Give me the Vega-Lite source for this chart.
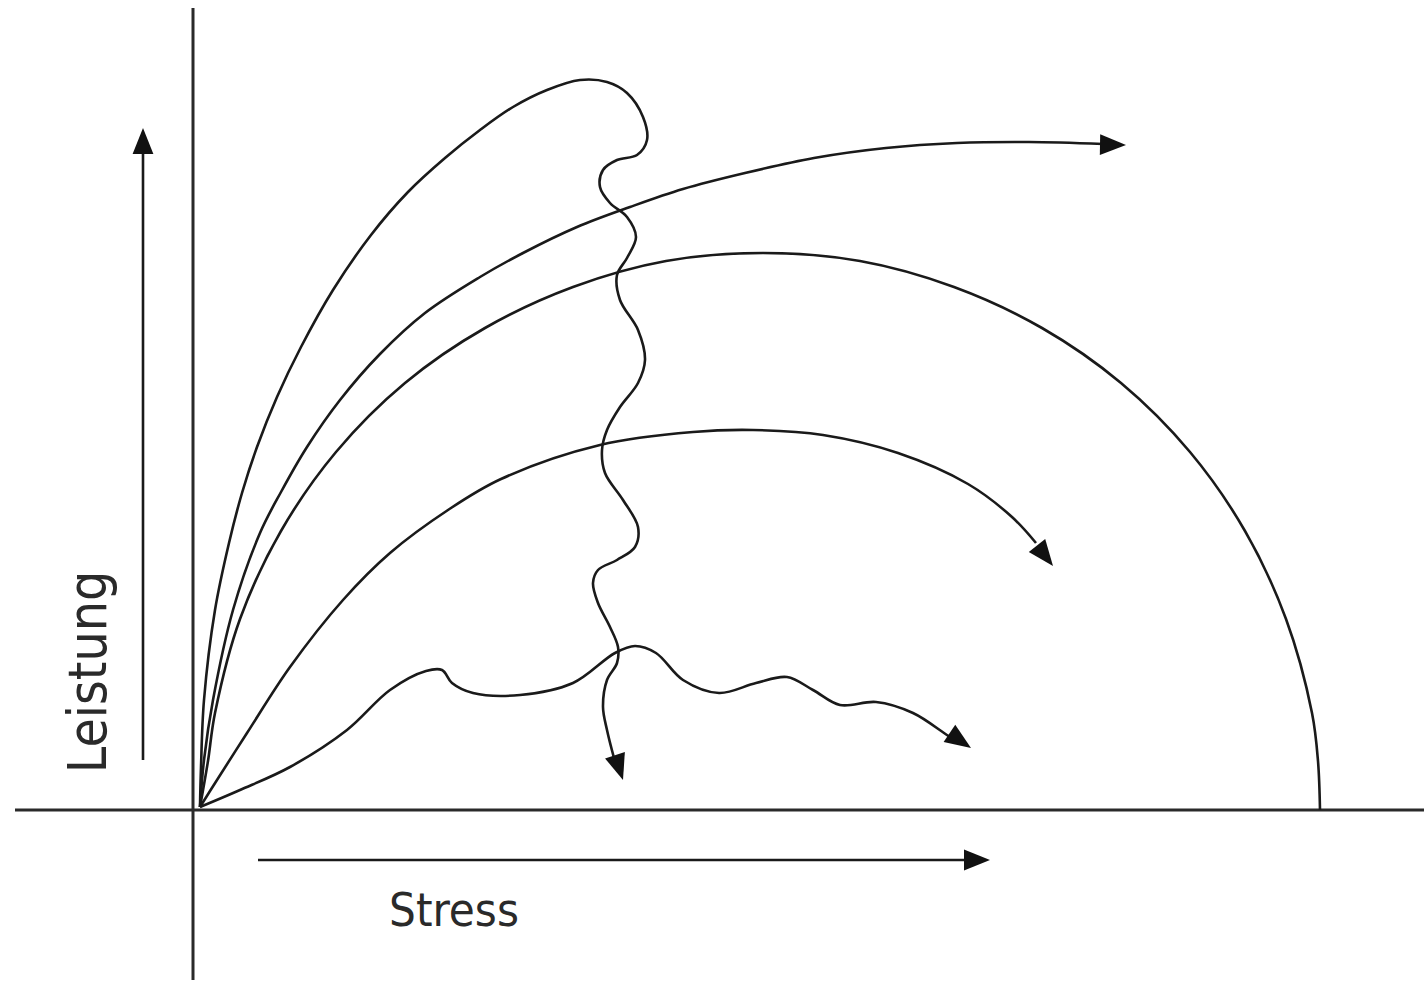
{
  "$schema": "https://vega.github.io/schema/vega-lite/v6.json",
  "width": 1424,
  "height": 981,
  "autosize": {"type": "fit", "contains": "padding"},
  "padding": 0,
  "background": "white",
  "config": {"view": {"stroke": null}},
  "datasets": {
    "axes": [
      {"s": "h", "i": 0, "x": -178, "y": 0},
      {"s": "h", "i": 1, "x": 1231, "y": 0},
      {"s": "v", "i": 0, "x": 0, "y": 802},
      {"s": "v", "i": 1, "x": 0, "y": -170}
    ],
    "curves": [
      {"s": "a", "i": 0, "x": 7, "y": 3},
      {"s": "a", "i": 1, "x": 8, "y": 43},
      {"s": "a", "i": 2, "x": 11, "y": 110},
      {"s": "a", "i": 3, "x": 22, "y": 200},
      {"s": "a", "i": 4, "x": 36, "y": 267},
      {"s": "a", "i": 5, "x": 49, "y": 317},
      {"s": "a", "i": 6, "x": 64, "y": 363},
      {"s": "a", "i": 7, "x": 84, "y": 413},
      {"s": "a", "i": 8, "x": 108, "y": 463},
      {"s": "a", "i": 9, "x": 140, "y": 520},
      {"s": "a", "i": 10, "x": 178, "y": 575},
      {"s": "a", "i": 11, "x": 215, "y": 618},
      {"s": "a", "i": 12, "x": 252, "y": 652},
      {"s": "a", "i": 13, "x": 287, "y": 680},
      {"s": "a", "i": 14, "x": 320, "y": 703},
      {"s": "a", "i": 15, "x": 354, "y": 720},
      {"s": "a", "i": 16, "x": 387, "y": 730},
      {"s": "a", "i": 17, "x": 414, "y": 728},
      {"s": "a", "i": 18, "x": 434, "y": 717},
      {"s": "a", "i": 19, "x": 450, "y": 693},
      {"s": "a", "i": 20, "x": 454, "y": 670},
      {"s": "a", "i": 21, "x": 444, "y": 655},
      {"s": "a", "i": 22, "x": 424, "y": 650},
      {"s": "a", "i": 23, "x": 410, "y": 640},
      {"s": "a", "i": 24, "x": 407, "y": 623},
      {"s": "a", "i": 25, "x": 417, "y": 607},
      {"s": "a", "i": 26, "x": 434, "y": 593},
      {"s": "a", "i": 27, "x": 443, "y": 573},
      {"s": "a", "i": 28, "x": 434, "y": 552},
      {"s": "a", "i": 29, "x": 424, "y": 535},
      {"s": "a", "i": 30, "x": 427, "y": 510},
      {"s": "a", "i": 31, "x": 445, "y": 480},
      {"s": "a", "i": 32, "x": 452, "y": 450},
      {"s": "a", "i": 33, "x": 445, "y": 427},
      {"s": "a", "i": 34, "x": 427, "y": 403},
      {"s": "a", "i": 35, "x": 414, "y": 380},
      {"s": "a", "i": 36, "x": 409, "y": 360},
      {"s": "a", "i": 37, "x": 412, "y": 337},
      {"s": "a", "i": 38, "x": 430, "y": 310},
      {"s": "a", "i": 39, "x": 445, "y": 283},
      {"s": "a", "i": 40, "x": 442, "y": 263},
      {"s": "a", "i": 41, "x": 424, "y": 250},
      {"s": "a", "i": 42, "x": 405, "y": 240},
      {"s": "a", "i": 43, "x": 400, "y": 227},
      {"s": "a", "i": 44, "x": 405, "y": 207},
      {"s": "a", "i": 45, "x": 417, "y": 183},
      {"s": "a", "i": 46, "x": 425, "y": 163},
      {"s": "a", "i": 47, "x": 424, "y": 147},
      {"s": "a", "i": 48, "x": 414, "y": 130},
      {"s": "a", "i": 49, "x": 410, "y": 103},
      {"s": "a", "i": 50, "x": 414, "y": 80},
      {"s": "a", "i": 51, "x": 421, "y": 52},

      {"s": "b", "i": 0, "x": 7, "y": 3},
      {"s": "b", "i": 1, "x": 11, "y": 50},
      {"s": "b", "i": 2, "x": 20, "y": 110},
      {"s": "b", "i": 3, "x": 40, "y": 200},
      {"s": "b", "i": 4, "x": 67, "y": 277},
      {"s": "b", "i": 5, "x": 88, "y": 318},
      {"s": "b", "i": 6, "x": 114, "y": 363},
      {"s": "b", "i": 7, "x": 147, "y": 410},
      {"s": "b", "i": 8, "x": 187, "y": 456},
      {"s": "b", "i": 9, "x": 232, "y": 497},
      {"s": "b", "i": 10, "x": 287, "y": 533},
      {"s": "b", "i": 11, "x": 330, "y": 557},
      {"s": "b", "i": 12, "x": 384, "y": 583},
      {"s": "b", "i": 13, "x": 437, "y": 603},
      {"s": "b", "i": 14, "x": 490, "y": 621},
      {"s": "b", "i": 15, "x": 552, "y": 637},
      {"s": "b", "i": 16, "x": 621, "y": 652},
      {"s": "b", "i": 17, "x": 693, "y": 662},
      {"s": "b", "i": 18, "x": 764, "y": 667},
      {"s": "b", "i": 19, "x": 836, "y": 668},
      {"s": "b", "i": 20, "x": 910, "y": 666},

      {"s": "c", "i": 0, "x": 7, "y": 3},
      {"s": "c", "i": 1, "x": 15, "y": 49},
      {"s": "c", "i": 2, "x": 22, "y": 97},
      {"s": "c", "i": 3, "x": 47, "y": 191},
      {"s": "c", "i": 4, "x": 88, "y": 279},
      {"s": "c", "i": 5, "x": 143, "y": 358},
      {"s": "c", "i": 6, "x": 212, "y": 427},
      {"s": "c", "i": 7, "x": 292, "y": 482},
      {"s": "c", "i": 8, "x": 380, "y": 523},
      {"s": "c", "i": 9, "x": 473, "y": 549},
      {"s": "c", "i": 10, "x": 570, "y": 557},
      {"s": "c", "i": 11, "x": 667, "y": 549},
      {"s": "c", "i": 12, "x": 761, "y": 523},
      {"s": "c", "i": 13, "x": 849, "y": 482},
      {"s": "c", "i": 14, "x": 928, "y": 427},
      {"s": "c", "i": 15, "x": 997, "y": 358},
      {"s": "c", "i": 16, "x": 1052, "y": 279},
      {"s": "c", "i": 17, "x": 1093, "y": 191},
      {"s": "c", "i": 18, "x": 1119, "y": 97},
      {"s": "c", "i": 19, "x": 1125, "y": 49},
      {"s": "c", "i": 20, "x": 1127, "y": 0},

      {"s": "d", "i": 0, "x": 7, "y": 3},
      {"s": "d", "i": 1, "x": 17, "y": 19},
      {"s": "d", "i": 2, "x": 54, "y": 77},
      {"s": "d", "i": 3, "x": 97, "y": 143},
      {"s": "d", "i": 4, "x": 150, "y": 210},
      {"s": "d", "i": 5, "x": 197, "y": 257},
      {"s": "d", "i": 6, "x": 255, "y": 300},
      {"s": "d", "i": 7, "x": 308, "y": 331},
      {"s": "d", "i": 8, "x": 407, "y": 365},
      {"s": "d", "i": 9, "x": 500, "y": 378},
      {"s": "d", "i": 10, "x": 560, "y": 380},
      {"s": "d", "i": 11, "x": 630, "y": 375},
      {"s": "d", "i": 12, "x": 705, "y": 357},
      {"s": "d", "i": 13, "x": 775, "y": 326},
      {"s": "d", "i": 14, "x": 819, "y": 293},
      {"s": "d", "i": 15, "x": 843, "y": 267},

      {"s": "e", "i": 0, "x": 7, "y": 3},
      {"s": "e", "i": 1, "x": 47, "y": 20},
      {"s": "e", "i": 2, "x": 97, "y": 43},
      {"s": "e", "i": 3, "x": 154, "y": 80},
      {"s": "e", "i": 4, "x": 197, "y": 120},
      {"s": "e", "i": 5, "x": 233, "y": 139},
      {"s": "e", "i": 6, "x": 249, "y": 140},
      {"s": "e", "i": 7, "x": 259, "y": 127},
      {"s": "e", "i": 8, "x": 280, "y": 117},
      {"s": "e", "i": 9, "x": 327, "y": 115},
      {"s": "e", "i": 10, "x": 380, "y": 127},
      {"s": "e", "i": 11, "x": 422, "y": 157},
      {"s": "e", "i": 12, "x": 442, "y": 164},
      {"s": "e", "i": 13, "x": 463, "y": 157},
      {"s": "e", "i": 14, "x": 490, "y": 130},
      {"s": "e", "i": 15, "x": 526, "y": 117},
      {"s": "e", "i": 16, "x": 563, "y": 127},
      {"s": "e", "i": 17, "x": 594, "y": 133},
      {"s": "e", "i": 18, "x": 620, "y": 120},
      {"s": "e", "i": 19, "x": 647, "y": 105},
      {"s": "e", "i": 20, "x": 683, "y": 108},
      {"s": "e", "i": 21, "x": 720, "y": 97},
      {"s": "e", "i": 22, "x": 751, "y": 77},
      {"s": "e", "i": 23, "x": 757, "y": 73},

      {"s": "up", "i": 0, "x": -50, "y": 50},
      {"s": "up", "i": 1, "x": -50, "y": 672},
      {"s": "right", "i": 0, "x": 65, "y": -50},
      {"s": "right", "i": 1, "x": 785, "y": -50}
    ],
    "heads": [
      {"s": "a", "x": 430, "y": 30, "dir": 72},
      {"s": "b", "x": 933, "y": 665, "dir": 1},
      {"s": "d", "x": 860, "y": 244, "dir": 52},
      {"s": "e", "x": 778, "y": 62, "dir": 34},
      {"s": "up", "x": -50, "y": 682, "dir": -90},
      {"s": "right", "x": 797, "y": -50, "dir": 0}
    ],
    "labels": [
      {"t": "Stress", "x": 261, "y": -102, "rot": 0}
    ],
    "vlabels": [
      {"t": "Leistung", "x": -103, "y": 138, "rot": 270}
    ]
  },
  "layer": [
    {
      "data": {"name": "axes"},
      "mark": {"type": "line", "color": "#2a2a2a", "strokeWidth": 3, "clip": true},
      "encoding": {
        "x": {"field": "x", "type": "quantitative", "scale": {"domain": [-193, 1231], "nice": false, "zero": false}, "axis": null},
        "y": {"field": "y", "type": "quantitative", "scale": {"domain": [-171, 810], "nice": false, "zero": false}, "axis": null},
        "detail": {"field": "s"},
        "order": {"field": "i"}
      }
    },
    {
      "data": {"name": "curves"},
      "mark": {"type": "line", "color": "#1a1a1a", "strokeWidth": 2.6, "interpolate": "catmull-rom"},
      "encoding": {
        "x": {"field": "x", "type": "quantitative", "scale": {"domain": [-193, 1231], "nice": false, "zero": false}, "axis": null},
        "y": {"field": "y", "type": "quantitative", "scale": {"domain": [-171, 810], "nice": false, "zero": false}, "axis": null},
        "detail": {"field": "s"},
        "order": {"field": "i"}
      }
    },
    {
      "data": {"name": "heads"},
      "mark": {"type": "point", "filled": true, "color": "#111111", "opacity": 1, "shape": "M0,0 L-2,-0.8 L-2,0.8 Z", "size": 676, "strokeWidth": 0},
      "encoding": {
        "x": {"field": "x", "type": "quantitative", "scale": {"domain": [-193, 1231], "nice": false, "zero": false}, "axis": null},
        "y": {"field": "y", "type": "quantitative", "scale": {"domain": [-171, 810], "nice": false, "zero": false}, "axis": null},
        "angle": {"field": "dir", "type": "quantitative", "scale": null}
      }
    },
    {
      "data": {"name": "labels"},
      "mark": {"type": "text", "font": "DejaVu Sans Condensed, sans-serif", "fontSize": 47, "color": "#2a2a2a", "align": "center", "baseline": "middle"},
      "encoding": {
        "x": {"field": "x", "type": "quantitative", "scale": {"domain": [-193, 1231], "nice": false, "zero": false}, "axis": null},
        "y": {"field": "y", "type": "quantitative", "scale": {"domain": [-171, 810], "nice": false, "zero": false}, "axis": null},
        "text": {"field": "t"},
        "angle": {"field": "rot", "type": "quantitative", "scale": null}
      }
    },
    {
      "data": {"name": "vlabels"},
      "mark": {"type": "text", "font": "DejaVu Sans Condensed, sans-serif", "fontSize": 53, "color": "#2a2a2a", "align": "center", "baseline": "middle"},
      "encoding": {
        "x": {"field": "x", "type": "quantitative", "scale": {"domain": [-193, 1231], "nice": false, "zero": false}, "axis": null},
        "y": {"field": "y", "type": "quantitative", "scale": {"domain": [-171, 810], "nice": false, "zero": false}, "axis": null},
        "text": {"field": "t"},
        "angle": {"field": "rot", "type": "quantitative", "scale": null}
      }
    }
  ]
}
